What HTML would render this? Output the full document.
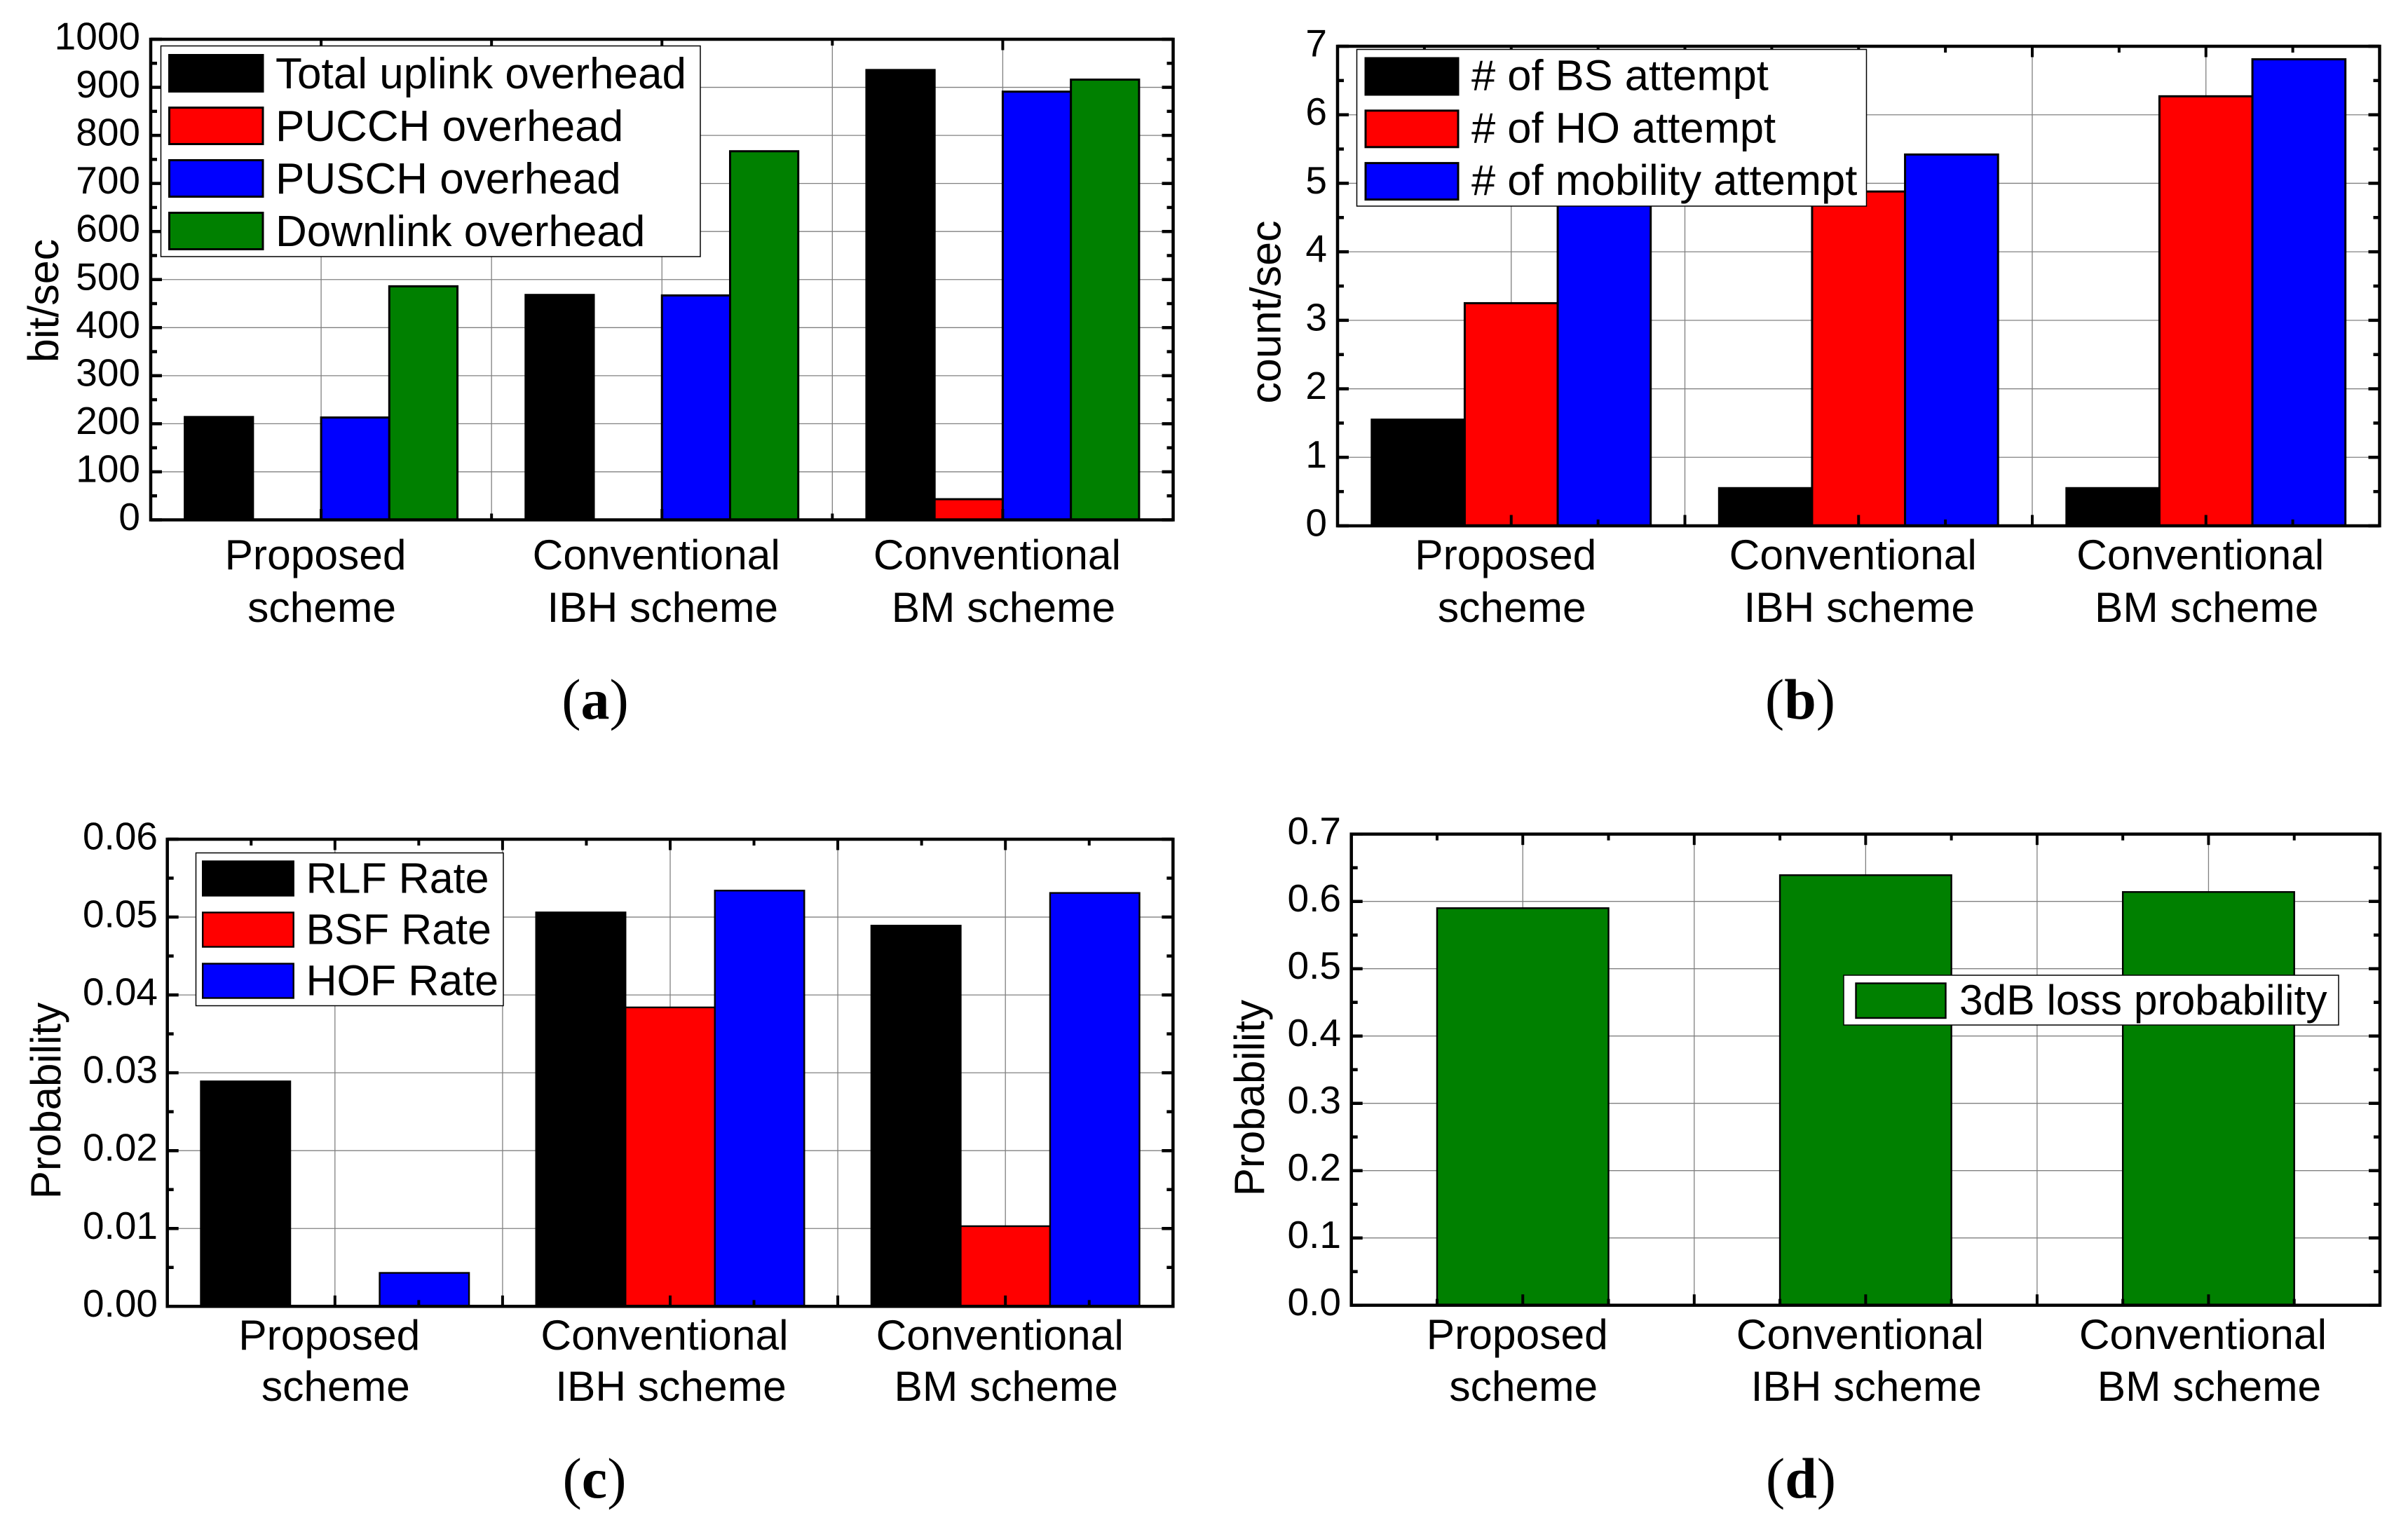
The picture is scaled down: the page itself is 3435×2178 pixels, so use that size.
<!DOCTYPE html>
<html lang="en">
<head>
<meta charset="utf-8">
<title>Overhead, attempt and failure-rate comparison</title>
<style>
html,body{margin:0;padding:0;background:#fff;width:3435px;height:2178px;overflow:hidden}
svg{display:block}
text{font-family:"Liberation Sans",sans-serif;fill:#000}
.cap{font-family:"Liberation Serif",serif;font-size:82px}
.cap tspan.b{font-weight:bold}
</style>
</head>
<body>
<svg id="figure" xmlns="http://www.w3.org/2000/svg" width="3435" height="2178" viewBox="0 0 3435 2178">
  <rect x="0" y="0" width="3435" height="2178" fill="#fff"/>
  <g id="plots"></g>
  <text class="axt" x="83" y="429" font-size="61" text-anchor="middle" transform="rotate(-90 83 429)">bit/sec</text>
  <text class="axt" x="1826.5" y="445" font-size="61" text-anchor="middle" transform="rotate(-90 1826.5 445)">count/sec</text>
  <text class="axt" x="86" y="1570" font-size="60" text-anchor="middle" transform="rotate(-90 86 1570)">Probability</text>
  <text class="axt" x="1803" y="1566" font-size="60" text-anchor="middle" transform="rotate(-90 1803 1566)">Probability</text>
  <text class="cap" x="849" y="1025" text-anchor="middle">(<tspan class="b">a</tspan>)</text>
  <text class="cap" x="2568" y="1025" text-anchor="middle">(<tspan class="b">b</tspan>)</text>
  <text class="cap" x="848" y="2136" text-anchor="middle">(<tspan class="b">c</tspan>)</text>
  <text class="cap" x="2569" y="2136" text-anchor="middle">(<tspan class="b">d</tspan>)</text>
</svg>
<script>
// Shared categories
const categoryLine1 = ["Proposed", "Conventional", "Conventional"];
const categoryLine2 = ["scheme", "IBH scheme", "BM scheme"];

// Panel (a): overhead, bit/sec
const aTotalUplink = [214, 468, 936];
const aPucch = [0, 0, 43];
const aPusch = [213, 467, 891];
const aDownlink = [486, 767, 916];
const aTicks = ["0", "100", "200", "300", "400", "500", "600", "700", "800", "900", "1000"];

// Panel (b): attempts, count/sec
const bBsAttempt = [1.55, 0.55, 0.55];
const bHoAttempt = [3.25, 4.88, 6.27];
const bMobilityAttempt = [4.8, 5.42, 6.81];
const bTicks = ["0", "1", "2", "3", "4", "5", "6", "7"];

// Panel (c): failure rates, probability
const cRlfRate = [0.0289, 0.0506, 0.0489];
const cBsfRate = [0, 0.0384, 0.0103];
const cHofRate = [0.0043, 0.0534, 0.0531];
const cTicks = ["0.00", "0.01", "0.02", "0.03", "0.04", "0.05", "0.06"];

// Panel (d): 3dB loss probability
const dLossProbability = [0.59, 0.639, 0.614];
const dTicks = ["0.0", "0.1", "0.2", "0.3", "0.4", "0.5", "0.6", "0.7"];

const BLACK = "#000000", RED = "#ff0000", BLUE = "#0000ff", GREEN = "#008000";
const NS = "http://www.w3.org/2000/svg";

function mk(parent, tag, attrs, txt) {
  const el = document.createElementNS(NS, tag);
  for (const k in attrs) el.setAttribute(k, attrs[k]);
  if (txt !== undefined) el.textContent = txt;
  parent.appendChild(el);
  return el;
}

function drawPanel(cfg) {
  const root = document.getElementById("plots");
  const g = mk(root, "g", {});
  
  

  const tickVals = cfg.ticks.map(parseFloat);
  const yMax = tickVals[tickVals.length - 1];
  const yScale = v => cfg.bottom - (v / yMax) * (cfg.bottom - cfg.top);
  const nCat = categoryLine1.length;
  const groupW = (cfg.right - cfg.left) / nCat;
  const xScale = p => cfg.left + (p + 0.5) * groupW;   // p = category position

  // grid
  for (let i = 1; i < tickVals.length - 1; i++) {
    const gy = mk(g, "line", {x1: cfg.left, x2: cfg.right, y1: yScale(tickVals[i]), y2: yScale(tickVals[i]), stroke: "#808080", "stroke-width": 1.3});
    
    
  }
  for (let k = 0; k <= 2 * (nCat - 1) + 1 - 1; k++) {
    const p = k / 2;
    const gx = mk(g, "line", {x1: xScale(p), x2: xScale(p), y1: cfg.top, y2: cfg.bottom, stroke: "#808080", "stroke-width": 1.3});
    
    
  }

  // bars
  const bw = cfg.groupFrac / cfg.series.length;
  cfg.series.forEach((s, si) => {
    s.values.forEach((v, ci) => {
      const x0 = xScale(ci - cfg.groupFrac / 2 + si * bw);
      const x1 = xScale(ci - cfg.groupFrac / 2 + (si + 1) * bw);
      const bar = mk(g, "rect", {x: x0, y: yScale(v), width: x1 - x0, height: yScale(0) - yScale(v), fill: s.color, stroke: "#000", "stroke-width": cfg.barStroke});
      
      
    });
  });

  // y ticks & labels
  tickVals.forEach((v, i) => {
    const y = yScale(v);
    [[cfg.left, 1], [cfg.right, -1]].forEach(([ax, dir]) => {
      const t = mk(g, "line", {x1: ax, x2: ax + dir * 16, y1: y, y2: y, stroke: "#000", "stroke-width": 4.5});
      
      
      if (i < tickVals.length - 1) {
        const ym = yScale((v + tickVals[i + 1]) / 2);
        const tm = mk(g, "line", {x1: ax, x2: ax + dir * 9, y1: ym, y2: ym, stroke: "#000", "stroke-width": 4.5});
        
        
      }
    });
    const lab = mk(g, "text", {x: cfg.yLabelX, y: y + 14.5, "font-size": 55, "text-anchor": "end"}, cfg.ticks[i]);
    
    
  });

  // x ticks: every quarter of a category slot
  for (let k = 1; k < nCat * 4; k++) {
    const p = k / 4 - 0.5;
    const len = (k % 4 === 2) ? 15.5 : (k % 4 === 0 ? cfg.boundaryLen : cfg.quarterLen);
    if (!len) continue;
    [[cfg.bottom, -1], [cfg.top, 1]].forEach(([ay, dir]) => {
      const t = mk(g, "line", {x1: xScale(p), x2: xScale(p), y1: ay, y2: ay + dir * len, stroke: "#000", "stroke-width": 4});
      
      
    });
  }

  // frame
  const frame = mk(g, "rect", {x: cfg.left, y: cfg.top, width: cfg.right - cfg.left, height: cfg.bottom - cfg.top, fill: "none", stroke: "#000", "stroke-width": 4.5});
  
  

  // x labels
  categoryLine1.forEach((c, i) => {
    const l1 = mk(g, "text", {x: xScale(i) - 8, y: cfg.xLine1Y, "font-size": 60.5, "text-anchor": "middle"}, c);
    
    
    const l2 = mk(g, "text", {x: xScale(i) + 1, y: cfg.xLine2Y, "font-size": 60.5, "text-anchor": "middle"}, categoryLine2[i]);
    
    
  });

  // legend
  const L = cfg.legend;
  const lg = mk(g, "g", {});
  
  
  const box = mk(lg, "rect", {x: L.x, y: L.y, width: L.w, height: L.h, fill: "#fff", stroke: "#000", "stroke-width": 1.5});
  
  
  cfg.series.forEach((s, i) => {
    const sw = mk(lg, "rect", {x: L.swX, y: L.swY + i * L.step, width: L.swW, height: L.swH, fill: s.color, stroke: "#000", "stroke-width": cfg.barStroke});
    
    
    const tx = mk(lg, "text", {x: L.textX, y: L.baseY + i * L.step, "font-size": L.fs}, s.label);
    
    
  });
}

drawPanel({
  id: "overhead", left: 215, right: 1673.5, top: 56, bottom: 741.5, groupFrac: 0.8, barStroke: 3,
  ticks: aTicks, yLabelX: 200, xLine1Y: 812, xLine2Y: 887, boundaryLen: 9, quarterLen: 0,
  series: [
    {key: "total-uplink", label: "Total uplink overhead", color: BLACK, values: aTotalUplink},
    {key: "pucch", label: "PUCCH overhead", color: RED, values: aPucch},
    {key: "pusch", label: "PUSCH overhead", color: BLUE, values: aPusch},
    {key: "downlink", label: "Downlink overhead", color: GREEN, values: aDownlink}
  ],
  legend: {x: 229.5, y: 65.5, w: 769.5, h: 300.5, swX: 241.5, swY: 78.5, swW: 133.5, swH: 52, step: 75, textX: 393, baseY: 126, fs: 62}
});

drawPanel({
  id: "attempts", left: 1908, right: 3394.5, top: 66, bottom: 750, groupFrac: 0.803, barStroke: 3,
  ticks: bTicks, yLabelX: 1893, xLine1Y: 812, xLine2Y: 887, boundaryLen: 15.5, quarterLen: 9,
  series: [
    {key: "bs-attempt", label: "# of BS attempt", color: BLACK, values: bBsAttempt},
    {key: "ho-attempt", label: "# of HO attempt", color: RED, values: bHoAttempt},
    {key: "mobility-attempt", label: "# of mobility attempt", color: BLUE, values: bMobilityAttempt}
  ],
  legend: {x: 1935.5, y: 70.5, w: 727, h: 223.5, swX: 1948, swY: 83, swW: 132, swH: 52, step: 74.8, textX: 2099, baseY: 128.5, fs: 61.5}
});

drawPanel({
  id: "failure-rates", left: 238.7, right: 1673.3, top: 1197, bottom: 1863.3, groupFrac: 0.8, barStroke: 2.4,
  ticks: cTicks, yLabelX: 225, xLine1Y: 1925, xLine2Y: 1998, boundaryLen: 15.5, quarterLen: 9,
  series: [
    {key: "rlf-rate", label: "RLF Rate", color: BLACK, values: cRlfRate},
    {key: "bsf-rate", label: "BSF Rate", color: RED, values: cBsfRate},
    {key: "hof-rate", label: "HOF Rate", color: BLUE, values: cHofRate}
  ],
  legend: {x: 279.5, y: 1216.5, w: 438.5, h: 218, swX: 289.2, swY: 1228.5, swW: 129.5, swH: 49, step: 73, textX: 436.5, baseY: 1273.3, fs: 61}
});

drawPanel({
  id: "loss-probability", left: 1927.7, right: 3395, top: 1189.7, bottom: 1861.7, groupFrac: 0.5, barStroke: 2.4,
  ticks: dTicks, yLabelX: 1913, xLine1Y: 1924, xLine2Y: 1998, boundaryLen: 15.5, quarterLen: 9,
  series: [
    {key: "3db-loss", label: "3dB loss probability", color: GREEN, values: dLossProbability}
  ],
  legend: {x: 2630, y: 1391, w: 706, h: 71, swX: 2647.5, swY: 1402.5, swW: 128, swH: 49.5, step: 74, textX: 2795, baseY: 1447, fs: 60.5}
});
</script>
</body>
</html>
